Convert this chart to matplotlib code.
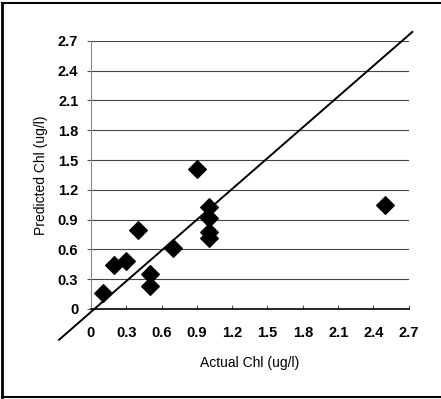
import matplotlib.pyplot as plt
from matplotlib.lines import Line2D

# actual vs predicted chlorophyll
actual = [0.1, 0.2, 0.3, 0.4, 0.5, 0.5, 0.7, 0.9, 1.0, 1.0, 1.0, 1.0, 2.5]
predicted = [0.16, 0.44, 0.48, 0.80, 0.35, 0.23, 0.61, 1.41, 1.03, 0.92, 0.78, 0.71, 1.05]
ticks = [0, 0.3, 0.6, 0.9, 1.2, 1.5, 1.8, 2.1, 2.4, 2.7]
tick_labels = ['0', '0.3', '0.6', '0.9', '1.2', '1.5', '1.8', '2.1', '2.4', '2.7']
# 1:1 reference line, drawn past the axes
line_x = [-0.27, 2.73]
line_y = [-0.31, 2.79]

plt.rcParams['font.family'] = ['Liberation Sans', 'DejaVu Sans']

fig = plt.figure(figsize=(4.41, 3.99), dpi=100)
ax = fig.add_axes([0.206, 0.2256, 0.721, 0.672])

for t in ticks[1:]:
    ax.axhline(t, color='#444444', linewidth=0.8, zorder=1)

ax.plot(line_x, line_y, color='black', linewidth=1.4, clip_on=False, zorder=3)
ax.scatter(actual, predicted, marker='D', s=80, color='black', zorder=4)

ax.set_xlim(0, 2.7)
ax.set_ylim(0, 2.7)
ax.set_xticks(ticks)
ax.set_yticks(ticks)
ax.set_xticklabels(tick_labels, fontsize=10.5, fontweight='bold')
ax.set_yticklabels(tick_labels, fontsize=10.5, fontweight='bold')
ax.tick_params(axis='both', length=3, width=0.8, color='#555555')
ax.tick_params(axis='x', direction='in', pad=12)
ax.tick_params(axis='y', pad=6)

for side in ['top', 'right']:
    ax.spines[side].set_visible(False)
ax.spines['left'].set_color('#888888')
ax.spines['bottom'].set_color('black')
ax.spines['bottom'].set_linewidth(1.2)

ax.set_xlabel('Actual Chl (ug/l)', fontsize=10, labelpad=12)
ax.set_ylabel('Predicted Chl (ug/l)', fontsize=10, labelpad=7)

# outer frame
fig.add_artist(Line2D([0.005, 0.005], [0.005, 0.992], color='black', linewidth=2, transform=fig.transFigure))
fig.add_artist(Line2D([0.005, 1.0], [0.992, 0.992], color='black', linewidth=1.5, transform=fig.transFigure))
fig.add_artist(Line2D([0.005, 1.0], [0.006, 0.006], color='black', linewidth=1.5, transform=fig.transFigure))

fig.savefig('out.png', dpi=100)
